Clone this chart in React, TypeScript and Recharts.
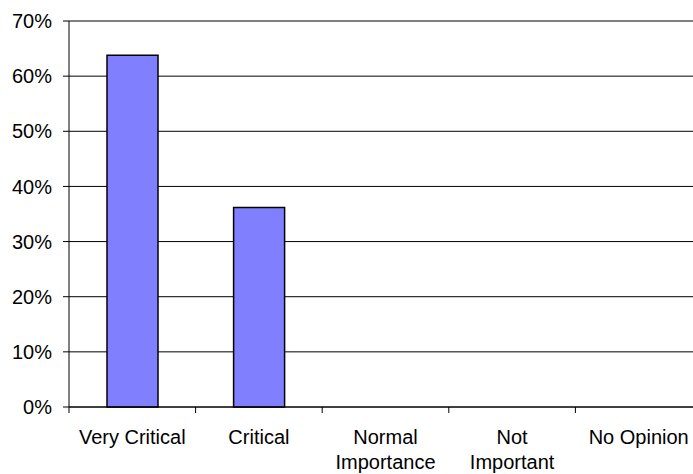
import React from "react";
import { BarChart, Bar, XAxis, YAxis, CartesianGrid, ReferenceLine } from "recharts";

const categories = ["Very Critical", "Critical", "Normal Importance", "Not Important", "No Opinion"];
const tickLines = [["Very Critical"], ["Critical"], ["Normal", "Importance"], ["Not", "Important"], ["No Opinion"]];
const shares = [0.638, 0.362, 0, 0, 0];
const yTicks = [0, 0.1, 0.2, 0.3, 0.4, 0.5, 0.6, 0.7];

const data = categories.map((name, i) => ({ name, share: shares[i], idx: i }));

const FONT = "'Liberation Sans', Arial, sans-serif";
const PLOT_LEFT = 69;
const PLOT_WIDTH = 633;
const BAND = PLOT_WIDTH / categories.length;

// Category label with tick marks placed on the band boundaries
const CategoryTick = (props: any) => {
  const { x, y, payload, index } = props;
  const lines = tickLines[index] ?? [String(payload.value)];
  const left = x - BAND / 2;
  const right = x + BAND / 2;
  return (
    <g>
      <line x1={left} y1={y} x2={left} y2={y + 6} stroke="#000" strokeWidth={1} />
      {index === categories.length - 1 && (
        <line x1={right} y1={y} x2={right} y2={y + 6} stroke="#000" strokeWidth={1} />
      )}
      {lines.map((t: string, i: number) => (
        <text
          key={i}
          x={x}
          y={y + 37 + i * 25}
          textAnchor="middle"
          fontFamily={FONT}
          fontSize={20}
          fill="#000"
        >
          {t}
        </text>
      ))}
    </g>
  );
};

export default function App() {
  return (
    <div
      style={{
        position: "absolute",
        left: 0,
        top: 0,
        width: 693,
        height: 474,
        overflow: "hidden",
        background: "#fff",
      }}
    >
      <BarChart
        width={PLOT_LEFT + PLOT_WIDTH + 18}
        height={474}
        data={data}
        margin={{ top: 21, right: 18, bottom: 0, left: 0 }}
        barSize={51}
      >
        <CartesianGrid vertical={false} stroke="#000" strokeWidth={1} />
        <XAxis
          dataKey="name"
          height={67}
          axisLine={{ stroke: "#000", strokeWidth: 1 }}
          tickLine={false}
          tickSize={0}
          tickMargin={0}
          interval={0}
          tick={<CategoryTick />}
        />
        <YAxis
          width={PLOT_LEFT}
          domain={[0, 0.7]}
          ticks={yTicks}
          tickFormatter={(v: number) => `${Math.round(v * 100)}%`}
          axisLine={{ stroke: "#000", strokeWidth: 1 }}
          tickLine={{ stroke: "#000", strokeWidth: 1 }}
          tickSize={6}
          tickMargin={11}
          tick={{ fontFamily: FONT, fontSize: 20, fill: "#000" }}
        />
        <ReferenceLine y={0.7} stroke="#808080" strokeWidth={1.5} />
        <Bar dataKey="share" fill="#8080FF" stroke="#000" strokeWidth={1.5} isAnimationActive={false} />
      </BarChart>
    </div>
  );
}
